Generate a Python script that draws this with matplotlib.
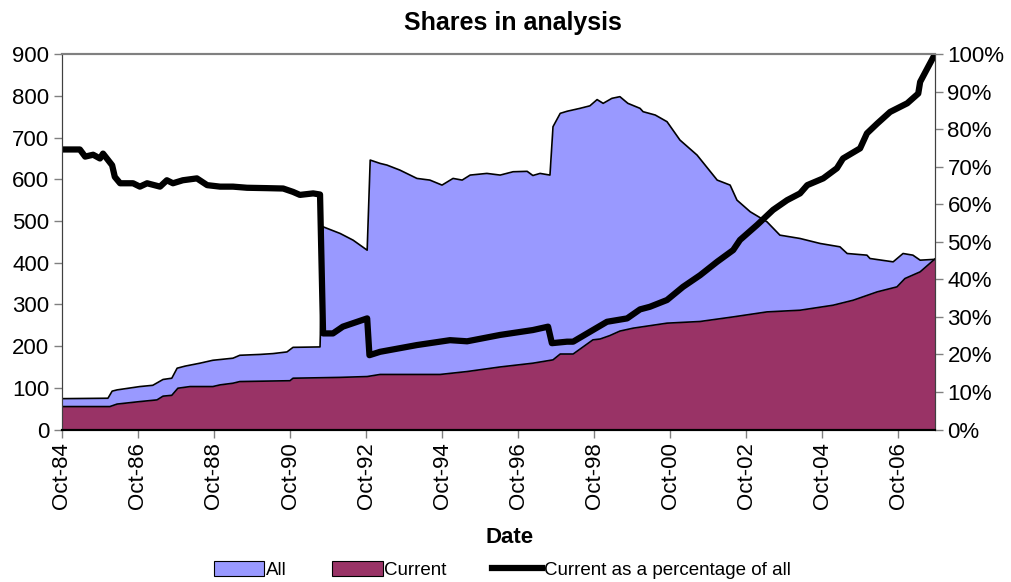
import matplotlib
matplotlib.use('Agg')
import matplotlib.pyplot as plt
from matplotlib.patches import Patch
from matplotlib.lines import Line2D

plt.rcParams['font.family'] = ['Liberation Sans', 'DejaVu Sans']

# "All" shares (years as fractions, count)
all_years = [1984.75, 1985.96, 1986.07, 1986.20, 1986.80, 1987.14, 1987.41, 1987.64,
             1987.78, 1987.99, 1988.38, 1988.72, 1989.25, 1989.43, 1989.96, 1990.30,
             1990.67, 1990.83, 1991.54, 1991.62, 1992.07, 1992.41, 1992.78, 1992.86,
             1993.12, 1993.30, 1993.64, 1994.09, 1994.43, 1994.75, 1995.04, 1995.28,
             1995.49, 1995.93, 1996.28, 1996.62, 1996.99, 1997.14, 1997.33, 1997.59,
             1997.67, 1997.86, 1998.04, 1998.38, 1998.64, 1998.83, 1998.99, 1999.22,
             1999.43, 1999.64, 1999.96, 2000.04, 2000.36, 2000.67, 2001.01, 2001.46,
             2001.99, 2002.33, 2002.51, 2002.86, 2003.30, 2003.64, 2004.17, 2004.70,
             2005.22, 2005.41, 2005.93, 2006.01, 2006.62, 2006.88, 2007.14, 2007.33,
             2007.72]
all_vals = [74, 75, 92, 95, 103, 106, 120, 123,
            147, 152, 159, 166, 171, 178, 180, 182,
            186, 197, 198, 486, 470, 454, 430, 646,
            638, 634, 622, 602, 598, 586, 602, 598,
            610, 614, 610, 618, 619, 609, 614, 610,
            726, 758, 763, 770, 776, 791, 782, 794,
            798, 782, 770, 762, 754, 738, 694, 658,
            598, 586, 550, 522, 498, 466, 458, 446,
            438, 422, 418, 410, 402, 422, 418, 406,
            408]

# "Current" shares
cur_years = [1984.75, 1986.01, 1986.20, 1986.80, 1987.25, 1987.41, 1987.64, 1987.80,
             1988.12, 1988.72, 1988.91, 1989.25, 1989.43, 1990.75, 1990.83, 1992.07,
             1992.78, 1993.12, 1994.70, 1995.41, 1996.28, 1997.14, 1997.67, 1997.86,
             1998.20, 1998.72, 1998.91, 1999.16, 1999.43, 1999.78, 2000.67, 2001.54,
             2002.41, 2003.30, 2004.17, 2005.04, 2005.57, 2006.20, 2006.72, 2006.93,
             2007.33, 2007.72]
cur_vals = [55, 55, 61, 67, 71, 80, 82, 99,
            103, 103, 107, 111, 115, 117, 123, 125,
            127, 132, 132, 139, 150, 159, 167, 181,
            181, 215, 217, 225, 236, 243, 255, 259,
            270, 282, 286, 298, 310, 330, 342, 362,
            378, 409]

# current as a percentage of all
pct_years = [1984.75, 1985.22, 1985.36, 1985.57, 1985.75, 1985.83, 1986.07, 1986.14,
             1986.28, 1986.62, 1986.80, 1986.99, 1987.33, 1987.51, 1987.67, 1987.93,
             1988.30, 1988.57, 1988.91, 1989.25, 1989.62, 1990.14, 1990.57, 1990.83,
             1991.01, 1991.36, 1991.54, 1991.62, 1991.88, 1992.14, 1992.78, 1992.84,
             1993.12, 1994.09, 1994.96, 1995.41, 1996.28, 1997.14, 1997.54, 1997.64,
             1998.04, 1998.20, 1998.72, 1999.09, 1999.62, 1999.96, 2000.22, 2000.67,
             2001.09, 2001.54, 2001.99, 2002.41, 2002.59, 2003.04, 2003.46, 2003.83,
             2004.17, 2004.36, 2004.78, 2005.14, 2005.30, 2005.75, 2005.93, 2006.20,
             2006.54, 2006.99, 2007.28, 2007.33, 2007.54, 2007.72]
pct_vals = [74.6, 74.6, 72.7, 73.2, 72.2, 73.5, 70.4, 67.3,
            65.6, 65.6, 64.7, 65.6, 64.7, 66.4, 65.6, 66.4,
            66.9, 65.1, 64.7, 64.7, 64.4, 64.3, 64.2, 63.3,
            62.5, 62.9, 62.6, 25.6, 25.6, 27.4, 29.6, 19.8,
            20.7, 22.5, 23.8, 23.5, 25.2, 26.5, 27.4, 23.0,
            23.4, 23.4, 26.5, 28.7, 29.6, 32.0, 32.7, 34.5,
            38.0, 41.1, 44.7, 47.8, 50.5, 54.5, 58.5, 61.1,
            62.9, 65.1, 66.9, 69.6, 72.2, 74.9, 78.9, 81.5,
            84.6, 86.9, 89.5, 92.6, 96.6, 100.0]

tick_years = [1984.75 + 2 * i for i in range(12)]
tick_labels = ['Oct-84', 'Oct-86', 'Oct-88', 'Oct-90', 'Oct-92', 'Oct-94',
               'Oct-96', 'Oct-98', 'Oct-00', 'Oct-02', 'Oct-04', 'Oct-06']

c_all = '#9999FF'
c_cur = '#993366'

fig = plt.figure(figsize=(10.11, 5.82), dpi=100)
ax = fig.add_axes([0.0613, 0.262, 0.8635, 0.645])

ax.fill_between(all_years, all_vals, 0, color=c_all, lw=0)
ax.plot(all_years, all_vals, color='black', lw=1.2)
ax.fill_between(cur_years, cur_vals, 0, color=c_cur, lw=0)
ax.plot(cur_years, cur_vals, color='black', lw=1.2)

ax.set_xlim(1984.75, 2007.72)
ax.set_ylim(0, 900)
ax.set_yticks(range(0, 901, 100))
ax.set_xticks(tick_years)
ax.set_xticklabels(tick_labels, rotation=90)

ax2 = ax.twinx()
ax2.plot(pct_years, pct_vals, color='black', lw=4.5, solid_joinstyle='round')
ax2.set_ylim(0, 100)
ax2.set_yticks(range(0, 101, 10))
ax2.set_yticklabels(['{}%'.format(v) for v in range(0, 101, 10)])
ax2.set_xlim(1984.75, 2007.72)

for a in (ax, ax2):
    a.tick_params(labelsize=16, length=6, width=1, color='#808080', direction='out',
                  pad=3)
    a.spines['top'].set_color('#808080')
    a.spines['top'].set_linewidth(1.5)
    a.spines['left'].set_color('#404040')
    a.spines['right'].set_color('#404040')
    a.spines['bottom'].set_color('black')
    a.spines['bottom'].set_linewidth(1.5)

fig.text(0.507, 1 - 23 / 582, 'Shares in analysis', ha='center', va='center',
         fontsize=18, fontweight='bold')
ax.set_xlabel('Date', fontsize=16, fontweight='bold')
ax.xaxis.set_label_coords(0.513, -0.26)

handles = [Patch(facecolor=c_all, edgecolor='black', lw=0.8),
           Patch(facecolor=c_cur, edgecolor='black', lw=0.8),
           Line2D([], [], color='black', lw=4.5)]
fig.legend(handles, ['All', 'Current', 'Current as a percentage of all'],
           loc='center', bbox_to_anchor=(0.497, 0.021), ncol=3, frameon=False,
           fontsize=13.5, handlelength=2.7, handleheight=0.9, handletextpad=0.1,
           columnspacing=2.4)

fig.savefig('out.png', dpi=100)
